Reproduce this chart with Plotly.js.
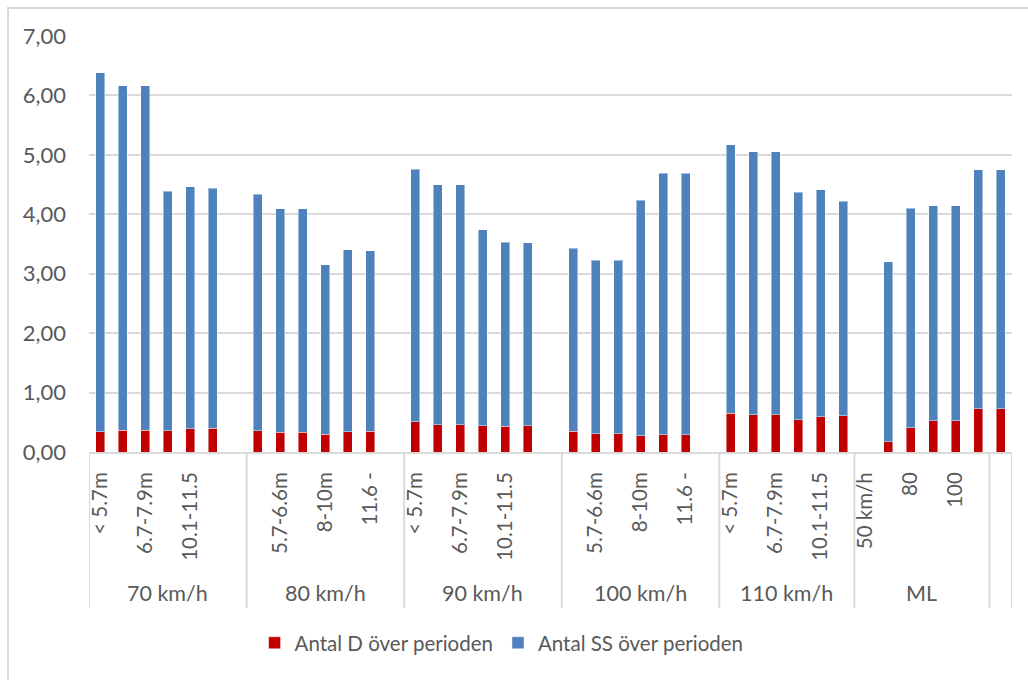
<!DOCTYPE html>
<html>
<head>
<meta charset="utf-8">
<script src="https://cdn.plot.ly/plotly-3.0.1.min.js"></script>
<style>
  html, body { margin: 0; padding: 0; background: #ffffff; }
  #wrap { position: relative; width: 1028px; height: 680px; overflow: hidden; }
  #chart { width: 1028px; height: 680px; }
  #frame {
    position: absolute; left: 7px; top: 7px; right: -20px; bottom: -20px;
    border-left: 2px solid #d9d9d9; border-top: 2px solid #d9d9d9;
    pointer-events: none;
  }
</style>
</head>
<body>
<div id="wrap"><div id="chart"></div><div id="frame"></div></div>
<script>
// Speed groups along the x axis and the vehicle length classes inside each one
const speedGroups = ["70 km/h", "80 km/h", "90 km/h", "100 km/h", "110 km/h", "ML", ""];
const lengthClasses = ["< 5.7m", "5.7-6.6m", "6.7-7.9m", "8-10m", "10.1-11.5", "11.6 -", ""];
const mlClasses = ["50 km/h", "70", "80", "90", "100", "110"];
const groupCategories = [
  lengthClasses, lengthClasses, lengthClasses, lengthClasses,
  lengthClasses.slice(0, 6), mlClasses, [""]
];

// Antal D över perioden (bottom segment)
const antalD = [
  0.34, 0.37, 0.37, 0.36, 0.39, 0.40, null,
  0.36, 0.33, 0.33, 0.30, 0.34, 0.35, null,
  0.51, 0.46, 0.46, 0.44, 0.43, 0.44, null,
  0.35, 0.31, 0.31, 0.27, 0.29, 0.29, null,
  0.65, 0.63, 0.63, 0.54, 0.59, 0.61,
  null, 0.17, 0.41, 0.53, 0.53, 0.73,
  0.73
];

// Antal SS över perioden (stacked on top)
const antalSS = [
  6.04, 5.79, 5.79, 4.03, 4.07, 4.04, null,
  3.98, 3.76, 3.76, 2.85, 3.06, 3.04, null,
  4.25, 4.04, 4.04, 3.30, 3.10, 3.08, null,
  3.08, 2.92, 2.92, 3.97, 4.40, 4.40, null,
  4.52, 4.42, 4.42, 3.83, 3.82, 3.61,
  null, 3.03, 3.69, 3.61, 3.61, 4.02,
  4.02
];

const seriesNames = ["Antal D över perioden", "Antal SS över perioden"];
const seriesColors = ["#C00000", "#4F81BD"];

// Flatten groups into unique category keys
const keys = [], subLabels = [], groupSpans = [];
speedGroups.forEach((g, gi) => {
  const start = keys.length;
  groupCategories[gi].forEach(c => { keys.push(g + " / " + c + " / " + keys.length); subLabels.push(c); });
  groupSpans.push([start, keys.length - 1]);
});

// Every other class name is printed under the axis
const tickvals = keys.filter((k, i) => i % 2 === 0);
const ticktext = subLabels.filter((s, i) => i % 2 === 0);

const textColor = "#595959";
const gridColor = "#d9d9d9";
const fontFamily = "Lato, 'Open Sans', sans-serif";

const traces = [antalD, antalSS].map((vals, si) => ({
  type: "bar",
  name: seriesNames[si],
  x: keys,
  y: vals,
  width: 0.4,
  marker: { color: seriesColors[si], line: { color: "rgba(255,255,255,0.45)", width: 1 } },
  hoverinfo: "skip"
}));

// Group dividers below the axis and the group captions
const lineBottom = -0.375;
const shapes = [];
groupSpans.forEach(([a, b], gi) => {
  shapes.push({ type: "line", xref: "x", yref: "paper", x0: a - 0.5, x1: a - 0.5, y0: 0, y1: lineBottom,
                line: { color: gridColor, width: 2 } });
  if (gi === groupSpans.length - 1) {
    shapes.push({ type: "line", xref: "x", yref: "paper", x0: b + 0.5, x1: b + 0.5, y0: 0, y1: lineBottom,
                  line: { color: gridColor, width: 2 } });
  }
});
const annotations = groupSpans.map(([a, b], gi) => ({
  xref: "x", yref: "paper", x: (a + b) / 2, y: -0.339,
  text: speedGroups[gi], showarrow: false, xanchor: "center", yanchor: "middle",
  font: { family: fontFamily, size: 21.5, color: textColor }
}));

const layout = {
  width: 1028, height: 680,
  margin: { l: 89, r: 16, t: 36, b: 228 },
  paper_bgcolor: "#ffffff", plot_bgcolor: "#ffffff",
  barmode: "stack",
  separators: ", ",
  font: { family: fontFamily, size: 20, color: textColor },
  xaxis: {
    type: "category",
    categoryorder: "array", categoryarray: keys,
    range: [-0.5, keys.length - 0.5],
    tickmode: "array", tickvals: tickvals, ticktext: ticktext,
    tickangle: -90, ticks: "", ticklabelstandoff: 10,
    showline: true, linecolor: gridColor, linewidth: 2,
    showgrid: false, zeroline: false,
    tickfont: { family: fontFamily, size: 20.5, color: textColor }
  },
  yaxis: {
    range: [0, 7], dtick: 1, tick0: 0, tickformat: ".2f",
    showgrid: true, gridcolor: gridColor, gridwidth: 2,
    zeroline: false, showline: false, ticks: "", ticklabelstandoff: 22,
    tickfont: { family: fontFamily, size: 22, color: textColor }
  },
  showlegend: true,
  legend: {
    orientation: "h", x: 0.447, xanchor: "center", y: -0.459, yanchor: "middle",
    font: { family: fontFamily, size: 20.5, color: textColor },
    traceorder: "normal", itemclick: false, itemdoubleclick: false
  },
  shapes: shapes,
  annotations: annotations
};

Plotly.newPlot("chart", traces, layout, { displayModeBar: false, staticPlot: true });
</script>
</body>
</html>
